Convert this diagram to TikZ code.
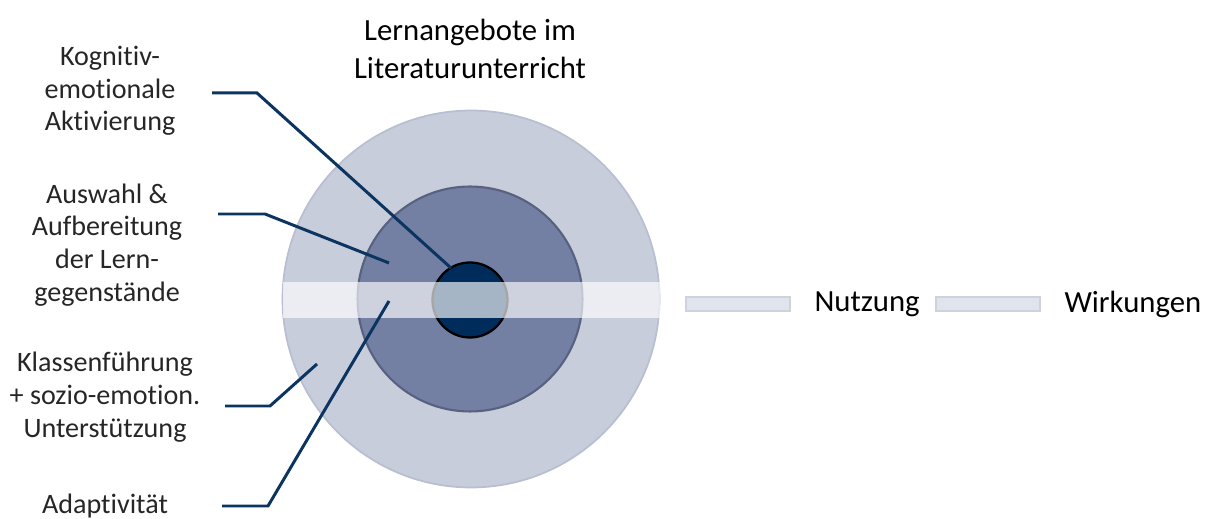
\documentclass[tikz,border=0pt]{standalone}
\usepackage{fontspec}
\setmainfont{Carlito}[Ligatures=NoCommon]
\usepackage{tikz}
\usetikzlibrary{positioning,calc}
\definecolor{ringlight}{HTML}{C8CDDB}
\definecolor{ringlightedge}{HTML}{B9BFD1}
\definecolor{ringmid}{HTML}{737FA3}
\definecolor{ringmidedge}{HTML}{58617F}
\definecolor{corenavy}{HTML}{002C5B}
\definecolor{pointerblue}{HTML}{0B3560}
\definecolor{labelgray}{HTML}{262626}
\definecolor{barfill}{HTML}{E1E4ED}
\definecolor{baredge}{HTML}{CDD2DF}
\tikzset{
    ring/.style={
        circle,
        draw,
        inner sep=0pt
    },
    outerring/.style={
        ring,
        fill=ringlight,
        draw=ringlightedge,
        line width=1pt,
        minimum size=7.54cm
    },
    midring/.style={
        ring,
        fill=ringmid,
        draw=ringmidedge,
        line width=1.2pt,
        minimum size=4.5cm
    },
    corering/.style={
        ring,
        fill=corenavy,
        draw=black,
        line width=1.3pt,
        minimum size=1.5cm
    },
    band/.style={
        fill=white,
        fill opacity=0.65,
        draw=none
    },
    pointer/.style={
        draw=pointerblue,
        line width=1.7pt
    },
    sidelabel/.style={
        align=center,
        text=labelgray,
        font=\fontsize{16}{18.6}\selectfont
    },
    legendbar/.style={
        rectangle,
        fill=barfill,
        draw=baredge,
        line width=1pt,
        minimum width=2.08cm,
        minimum height=0.28cm,
        inner sep=0pt
    },
    legendtext/.style={
        font=\fontsize{17.5}{21}\selectfont
    }
}
\begin{document}
\begin{tikzpicture}[x=0.02cm,y=-0.02cm]
    \useasboundingbox (0,0) rectangle (1206,519);

    % Rings
    \node[outerring] (outer) at (471,299) {};
    \node[midring] (mid) at (470,299) {};
    \node[corering] (core) at (470,300) {};

    % Usage band across the rings
    \fill[band] (283,282) rectangle (660,318);

    % Title
    \node[align=center, font=\fontsize{17.5}{21.5}\selectfont] (title) at (470,49)
        {Lernangebote im\\Literaturunterricht};

    % Labels on the left
    \node[sidelabel] (kog) at (110,91) {Kognitiv-\\emotionale\\Aktivierung};
    \node[sidelabel] (ausw) at (107,245) {Auswahl \&\\Aufbereitung\\der Lern-\\gegenstände};
    \node[sidelabel] (klass) at (105,397) {Klassenführung\\+ sozio-emotion.\\Unterstützung};
    \node[sidelabel] (adapt) at (105,506) {Adaptivität};

    % Pointer points
    \coordinate (kogStart) at (212,93);
    \coordinate (kogBend) at (257,93);
    \coordinate (kogEnd) at (451,268);
    \coordinate (auswStart) at (218,214);
    \coordinate (auswBend) at (265,214);
    \coordinate (auswEnd) at (389,263);
    \coordinate (klassStart) at (225,406);
    \coordinate (klassBend) at (270,406);
    \coordinate (klassEnd) at (317,364);
    \coordinate (adaptStart) at (222,506);
    \coordinate (adaptBend) at (268,506);
    \coordinate (adaptEnd) at (389,301);

    % Pointers into the rings
    \draw[pointer] (kogStart) -- (kogBend) -- (kogEnd);
    \draw[pointer] (auswStart) -- (auswBend) -- (auswEnd);
    \draw[pointer] (klassStart) -- (klassBend) -- (klassEnd);
    \draw[pointer] (adaptStart) -- (adaptBend) -- (adaptEnd);

    % Legend to the right
    \node[legendbar] (barUse) at (738,304) {};
    \node[legendtext, right=0.35cm of barUse] (use) {Nutzung};
    \node[legendbar] (barEffect) at (988,304) {};
    \node[legendtext, right=0.35cm of barEffect] (effect) {Wirkungen};
\end{tikzpicture}
\end{document}
